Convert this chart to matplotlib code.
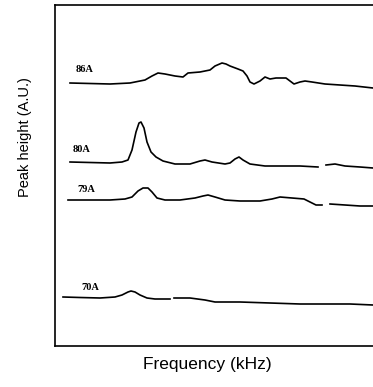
import numpy as np
import matplotlib.pyplot as plt

plt.rcParams['font.family'] = ['Liberation Sans', 'DejaVu Sans']

# frequency / peak height in arbitrary units
nan = np.nan

freq_86 = [15, 35, 55, 75, 90, 97, 103, 110, 120, 128, 133, 145, 155, 160, 167, 171,
           175, 183, 188, 192, 195, 199, 205, 210, 215, 221, 231, 235, 239, 245, 250,
           257, 270, 285, 300, 318]
height_86 = [263, 262.5, 262, 263, 266, 270, 273, 272, 270, 269, 273, 274, 276, 280, 283, 282,
             280, 277, 275, 270, 264, 262, 265, 269, 267, 268, 268, 265, 262, 264, 265,
             264, 262, 261, 260, 258]

freq_80 = [15, 35, 55, 67, 73, 77, 81, 84, 86, 89, 92, 96, 101, 108, 120, 135, 145, 150,
           157, 170, 175, 180, 184, 188, 195, 210, 230, 245, 263, 267, 271, 280, 290, 305, 318]
height_80 = [184, 183.5, 183, 184, 186, 196, 214, 223, 224, 218, 204, 194, 189, 185, 182, 182,
             185, 186, 184, 182, 183, 187, 189, 186, 182, 180, 180, 180, 179, nan, 181, 182,
             180, 179, 178]

freq_79 = [13, 35, 55, 70, 77, 83, 88, 93, 97, 102, 110, 125, 140, 148, 153, 160, 170, 185,
           205, 217, 225, 237, 249, 255, 261, 267, 271, 275, 290, 305, 318]
height_79 = [146, 146, 146, 147, 149, 155, 158, 158, 154, 148, 146, 146, 148, 150, 151, 149,
             146, 145, 145, 147, 149, 148, 147, 144, 141, 141, nan, 142, 141, 140, 140]

freq_70 = [8, 25, 45, 60, 67, 73, 76, 80, 85, 92, 100, 115, 117, 119, 135, 150, 160, 185,
           215, 245, 275, 295, 318]
height_70 = [49, 48.5, 48, 49, 51, 54, 55, 54, 51, 48, 47, 47, nan, 48, 48, 46, 44, 44,
             43, 42, 42, 42, 41]

series = [
    ('86A', freq_86, height_86, (21, 276)),
    ('80A', freq_80, height_80, (18, 196)),
    ('79A', freq_79, height_79, (22, 156)),
    ('70A', freq_70, height_70, (26, 59)),
]

fig = plt.figure(figsize=(3.73, 3.87), dpi=100)
ax = fig.add_axes([55 / 373, 1 - 346 / 387, 1 - 55 / 373, 341 / 387])

for name, f, h, (lx, ly) in series:
    ax.plot(f, h, color='black', lw=1.2)
    ax.text(lx, ly, name, fontsize=7.5, fontweight='bold', family='Liberation Serif',
            ha='left', va='center')

ax.set_xlim(0, 318)
ax.set_ylim(0, 341)
ax.set_xticks([])
ax.set_yticks([])
ax.spines['right'].set_visible(False)
for s in ['left', 'top', 'bottom']:
    ax.spines[s].set_linewidth(1.2)

fig.text(207 / 373, 1 - 365 / 387, 'Frequency (kHz)', fontsize=12.5, ha='center', va='center')
fig.text(25 / 373, 1 - 137 / 387, 'Peak height (A.U.)', fontsize=10.5, rotation=90,
         ha='center', va='center')

fig.savefig('out.png', dpi=100)
